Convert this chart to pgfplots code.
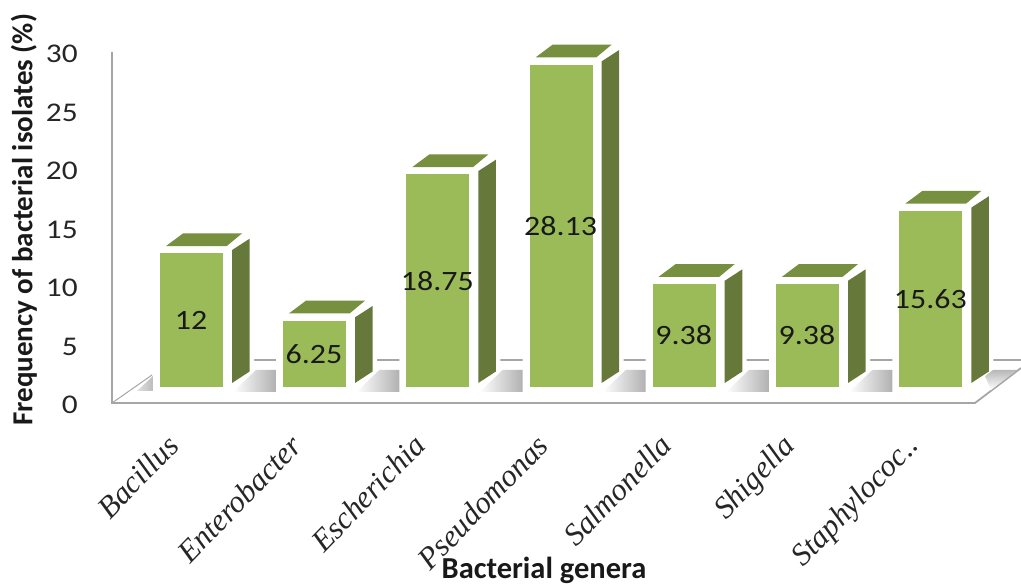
\documentclass[border=0pt]{standalone}
\usepackage{pgfplots}
\pgfplotsset{compat=1.18}
\usepackage{fontspec}
\setmainfont{Carlito}
\newfontfamily\genusfont[Ligatures=TeX]{Liberation Serif}
\definecolor{barfront}{HTML}{9BBB59}
\definecolor{barside}{HTML}{66783A}
\definecolor{bartop}{HTML}{769040}
\definecolor{axisgray}{HTML}{A6A6A6}
\definecolor{inkgray}{HTML}{262626}

% One bar in perspective: #1 left edge of the front face, #2 the value.
% Scale: 1 unit = 11.7 pt; the front plane sits 0.786 units above the wall scale.
\newcommand{\genusbar}[2]{%
  \pgfmathsetmacro\gxA{#1}%
  \pgfmathsetmacro\gxB{#1+63}%
  \pgfmathsetmacro\gyT{#2+0.786}%
  \pgfmathsetmacro\gyB{1.368}%
  % white outline round the solid
  \pgfmathsetmacro\owA{\gxA-7}\pgfmathsetmacro\owB{\gxB+9}\pgfmathsetmacro\owC{\gxB+31}%
  \pgfmathsetmacro\owD{\gxA+20}%
  \pgfmathsetmacro\ohA{\gyT+0.8}\pgfmathsetmacro\ohC{\gyT+2.0}\pgfmathsetmacro\ohD{\gyB+1.75}%
  \addplot[fill=white,draw=none,forget plot] coordinates
    {(\owA,0.94) (\owA,\ohA) (\owD,\ohC) (\owC,\ohC) (\owC,\ohD) (\owB,0.94)} --cycle;
  % front face
  \addplot[fill=barfront,draw=none,forget plot] coordinates
    {(\gxA,\gyB) (\gxA,\gyT) (\gxB,\gyT) (\gxB,\gyB)} --cycle;
  % side face
  \pgfmathsetmacro\sdA{\gxB+9}\pgfmathsetmacro\sdB{\gxB+26.6}%
  \pgfmathsetmacro\stA{\gyT+0.282}\pgfmathsetmacro\stB{\gyT+1.256}%
  \pgfmathsetmacro\sbA{\gyB+0.342}\pgfmathsetmacro\sbB{\gyB+1.325}%
  \addplot[fill=barside,draw=none,forget plot] coordinates
    {(\sdA,\sbA) (\sdA,\stA) (\sdB,\stB) (\sdB,\sbB)} --cycle;
  % top face
  \pgfmathsetmacro\tpA{\gxA+6}\pgfmathsetmacro\tpB{\gxA+66.7}%
  \pgfmathsetmacro\tpC{\gxA+82}\pgfmathsetmacro\tpD{\gxA+23}%
  \pgfmathsetmacro\tyA{\gyT+0.624}\pgfmathsetmacro\tyB{\gyT+1.709}%
  \addplot[fill=bartop,draw=none,forget plot] coordinates
    {(\tpA,\tyA) (\tpB,\tyA) (\tpC,\tyB) (\tpD,\tyB)} --cycle;
  % value printed at the middle of the front face
  \pgfmathsetmacro\lbX{#1+31}\pgfmathsetmacro\lbY{(\gyB+\gyT)/2}%
  \edef\valuelabel{\noexpand\node[text=black!90,font=\noexpand\fontsize{28}{30}\noexpand\selectfont,xscale=1.14]
    at (axis cs:\lbX,\lbY) {#2};}%
  \valuelabel
}

\begin{document}
\begin{tikzpicture}
\path[use as bounding box] (0,0) rectangle (1021pt,586pt);

% floor and back wall
\begin{scope}[x=1pt,y=-1pt,yshift=586pt]
  \draw[axisgray,line width=1.8pt] (112,52) -- (112,403) -- (975,403) -- (1021,368);
  \draw[axisgray,line width=1pt] (112,403) -- (152,375);
  \draw[axisgray,line width=1.8pt] (245,360) -- (1021,360);
  \shade[left color=white,middle color=black!4,right color=black!26]
    (122,391) -- (137,391) -- (153,376) -- (153,391) -- cycle;
  \foreach \x in {283,406.3,529.6,652.7,776,899.3} {
    \shade[left color=white,middle color=black!4,right color=black!32]
      (\x-50,392) -- (\x-5,392) -- (\x-5,370) -- (\x-27,370) -- cycle;
  }
  \shade[top color=black!28,bottom color=white]
    (985,376) -- (993,370) -- (1017,370) -- (991,390) -- cycle;
\end{scope}

\begin{axis}[
  at={(112pt,183pt)},
  anchor=south west,
  scale only axis,
  width=909pt,
  height=351pt,
  xmin=112, xmax=1021,
  ymin=0, ymax=30,
  clip=false,
  axis line style={draw=none},
  tick style={draw=none},
  ytick={0,5,...,30},
  xtick={191.5,314.5,437.8,561.1,684.2,807.5,930.8},
  xticklabels={Bacillus,Enterobacter,Escherichia,Pseudomonas,Salmonella,Shigella,Staphylococ..},
  /pgf/number format/assume math mode=true,
  yticklabel style={text=inkgray,font=\fontsize{27}{29}\selectfont,xscale=1.16,
    anchor=east,xshift=-26pt,yshift=-2pt},
  xticklabel style={rotate=46,anchor=north east,text=black!85,
    font=\genusfont\itshape\fontsize{31}{33}\selectfont,xshift=-36pt,yshift=2pt},
  xlabel={Bacterial genera},
  ylabel={Frequency of bacterial isolates (\%)},
  xlabel style={at={(axis cs:544,-14.3)},anchor=center,font=\bfseries\fontsize{30.5}{32}\selectfont,text=black!90},
  ylabel style={at={(axis cs:24,15.65)},anchor=center,rotate=0,font=\bfseries\fontsize{29}{31}\selectfont,text=black!90},
]
\genusbar{160}{12}
\genusbar{283}{6.25}
\genusbar{406.3}{18.75}
\genusbar{529.6}{28.13}
\genusbar{652.7}{9.38}
\genusbar{776}{9.38}
\genusbar{899.3}{15.63}
\end{axis}
\end{tikzpicture}
\end{document}
